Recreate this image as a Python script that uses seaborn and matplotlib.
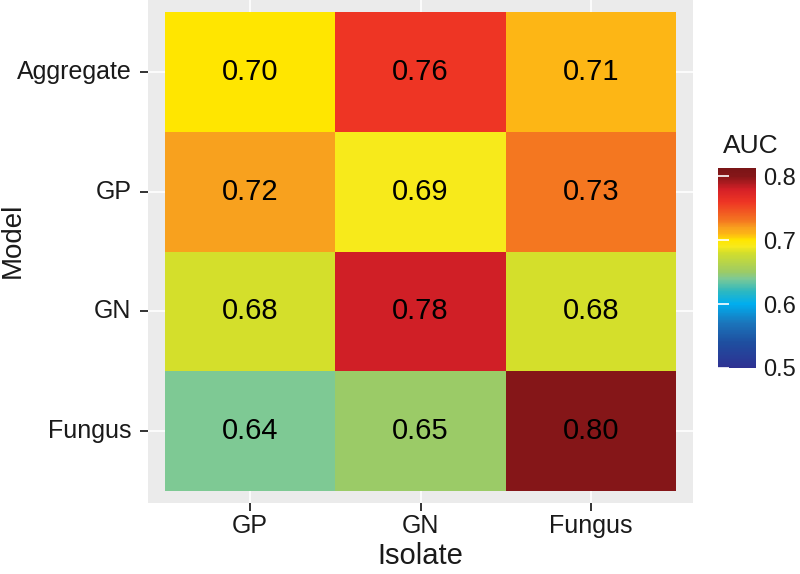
import numpy as np
import pandas as pd
import seaborn as sns
import matplotlib
matplotlib.use("Agg")
import matplotlib.pyplot as plt
from matplotlib.colors import LinearSegmentedColormap

models = ["Aggregate", "GP", "GN", "Fungus"]
isolates = ["GP", "GN", "Fungus"]
auc_aggregate = [0.70, 0.76, 0.71]
auc_gp = [0.72, 0.69, 0.73]
auc_gn = [0.68, 0.78, 0.68]
auc_fungus = [0.64, 0.65, 0.80]
cbar_ticks = [0.5, 0.6, 0.7, 0.8]
cbar_ticklabels = ["0.5", "0.6", "0.7", "0.8"]

df = pd.DataFrame([auc_aggregate, auc_gp, auc_gn, auc_fungus], index=models, columns=isolates)

vmin, vmax = 0.5, 0.813
anchors = [
    (0.500, "#2E3192"), (0.540, "#1E4FA0"), (0.570, "#1B75BB"), (0.600, "#00AEEF"),
    (0.620, "#2DB8C0"), (0.640, "#7EC994"), (0.650, "#9CCB66"), (0.680, "#D2DE2C"),
    (0.690, "#F7EA1C"), (0.700, "#FFE600"), (0.710, "#FDB515"), (0.720, "#F8A01E"),
    (0.730, "#F47920"), (0.760, "#EE3524"), (0.780, "#D42027"), (0.800, "#861618"),
    (0.813, "#7A1517"),
]
cmap = LinearSegmentedColormap.from_list(
    "auc", [((v - vmin) / (vmax - vmin), c) for v, c in anchors])

plt.rcParams["font.family"] = ["Liberation Sans", "DejaVu Sans"]

fig = plt.figure(figsize=(8, 5.74), dpi=100)
ax = fig.add_axes([148 / 800, 1 - 503 / 574, 545 / 800, 503 / 574])
cax = fig.add_axes([718 / 800, 1 - 368 / 574, 38 / 800, 200 / 574])

sns.heatmap(df, ax=ax, cbar_ax=cax, cmap=cmap, vmin=vmin, vmax=vmax,
            annot=True, fmt=".2f",
            annot_kws={"color": "black", "size": 21},
            cbar_kws={"ticks": cbar_ticks})

ax.set_facecolor("#EBEBEB")
ax.set_axisbelow(True)
ax.grid(True, color="white", linewidth=1.2)
ax.set_xlim(-0.1, 3.1)
ax.set_ylim(4.1, -0.1)
for s in ax.spines.values():
    s.set_visible(False)
ax.set_xlabel("")
ax.set_ylabel("")
ax.set_yticklabels(models, rotation=0)
ax.set_xticklabels(isolates, rotation=0)
ax.tick_params(axis="both", length=6, width=1.4, color="#333333",
               labelsize=18, labelcolor="#1a1a1a")
ax.tick_params(axis="x", pad=2)
ax.tick_params(axis="y", pad=6)

cax.set_yticklabels(cbar_ticklabels)
cax.tick_params(axis="y", direction="in", left=True, right=False, color="white",
                length=8, width=1.2, labelleft=False, labelright=True,
                labelsize=17, labelcolor="#1a1a1a", pad=5)
cbar = ax.collections[0].colorbar
if cbar is not None:
    cbar.outline.set_visible(False)
for s in cax.spines.values():
    s.set_visible(False)

fig.text(723 / 800, 1 - 153 / 574, "AUC", ha="left", va="baseline",
         fontsize=19, color="#1a1a1a")
fig.text(420.5 / 800, 1 - 564 / 574, "Isolate", ha="center", va="baseline",
         fontsize=21, color="#1a1a1a")
fig.text(12.5 / 800, 1 - 240 / 574, "Model", ha="center", va="center",
         rotation=90, fontsize=20, color="#1a1a1a")

fig.savefig("out.png", dpi=100)
